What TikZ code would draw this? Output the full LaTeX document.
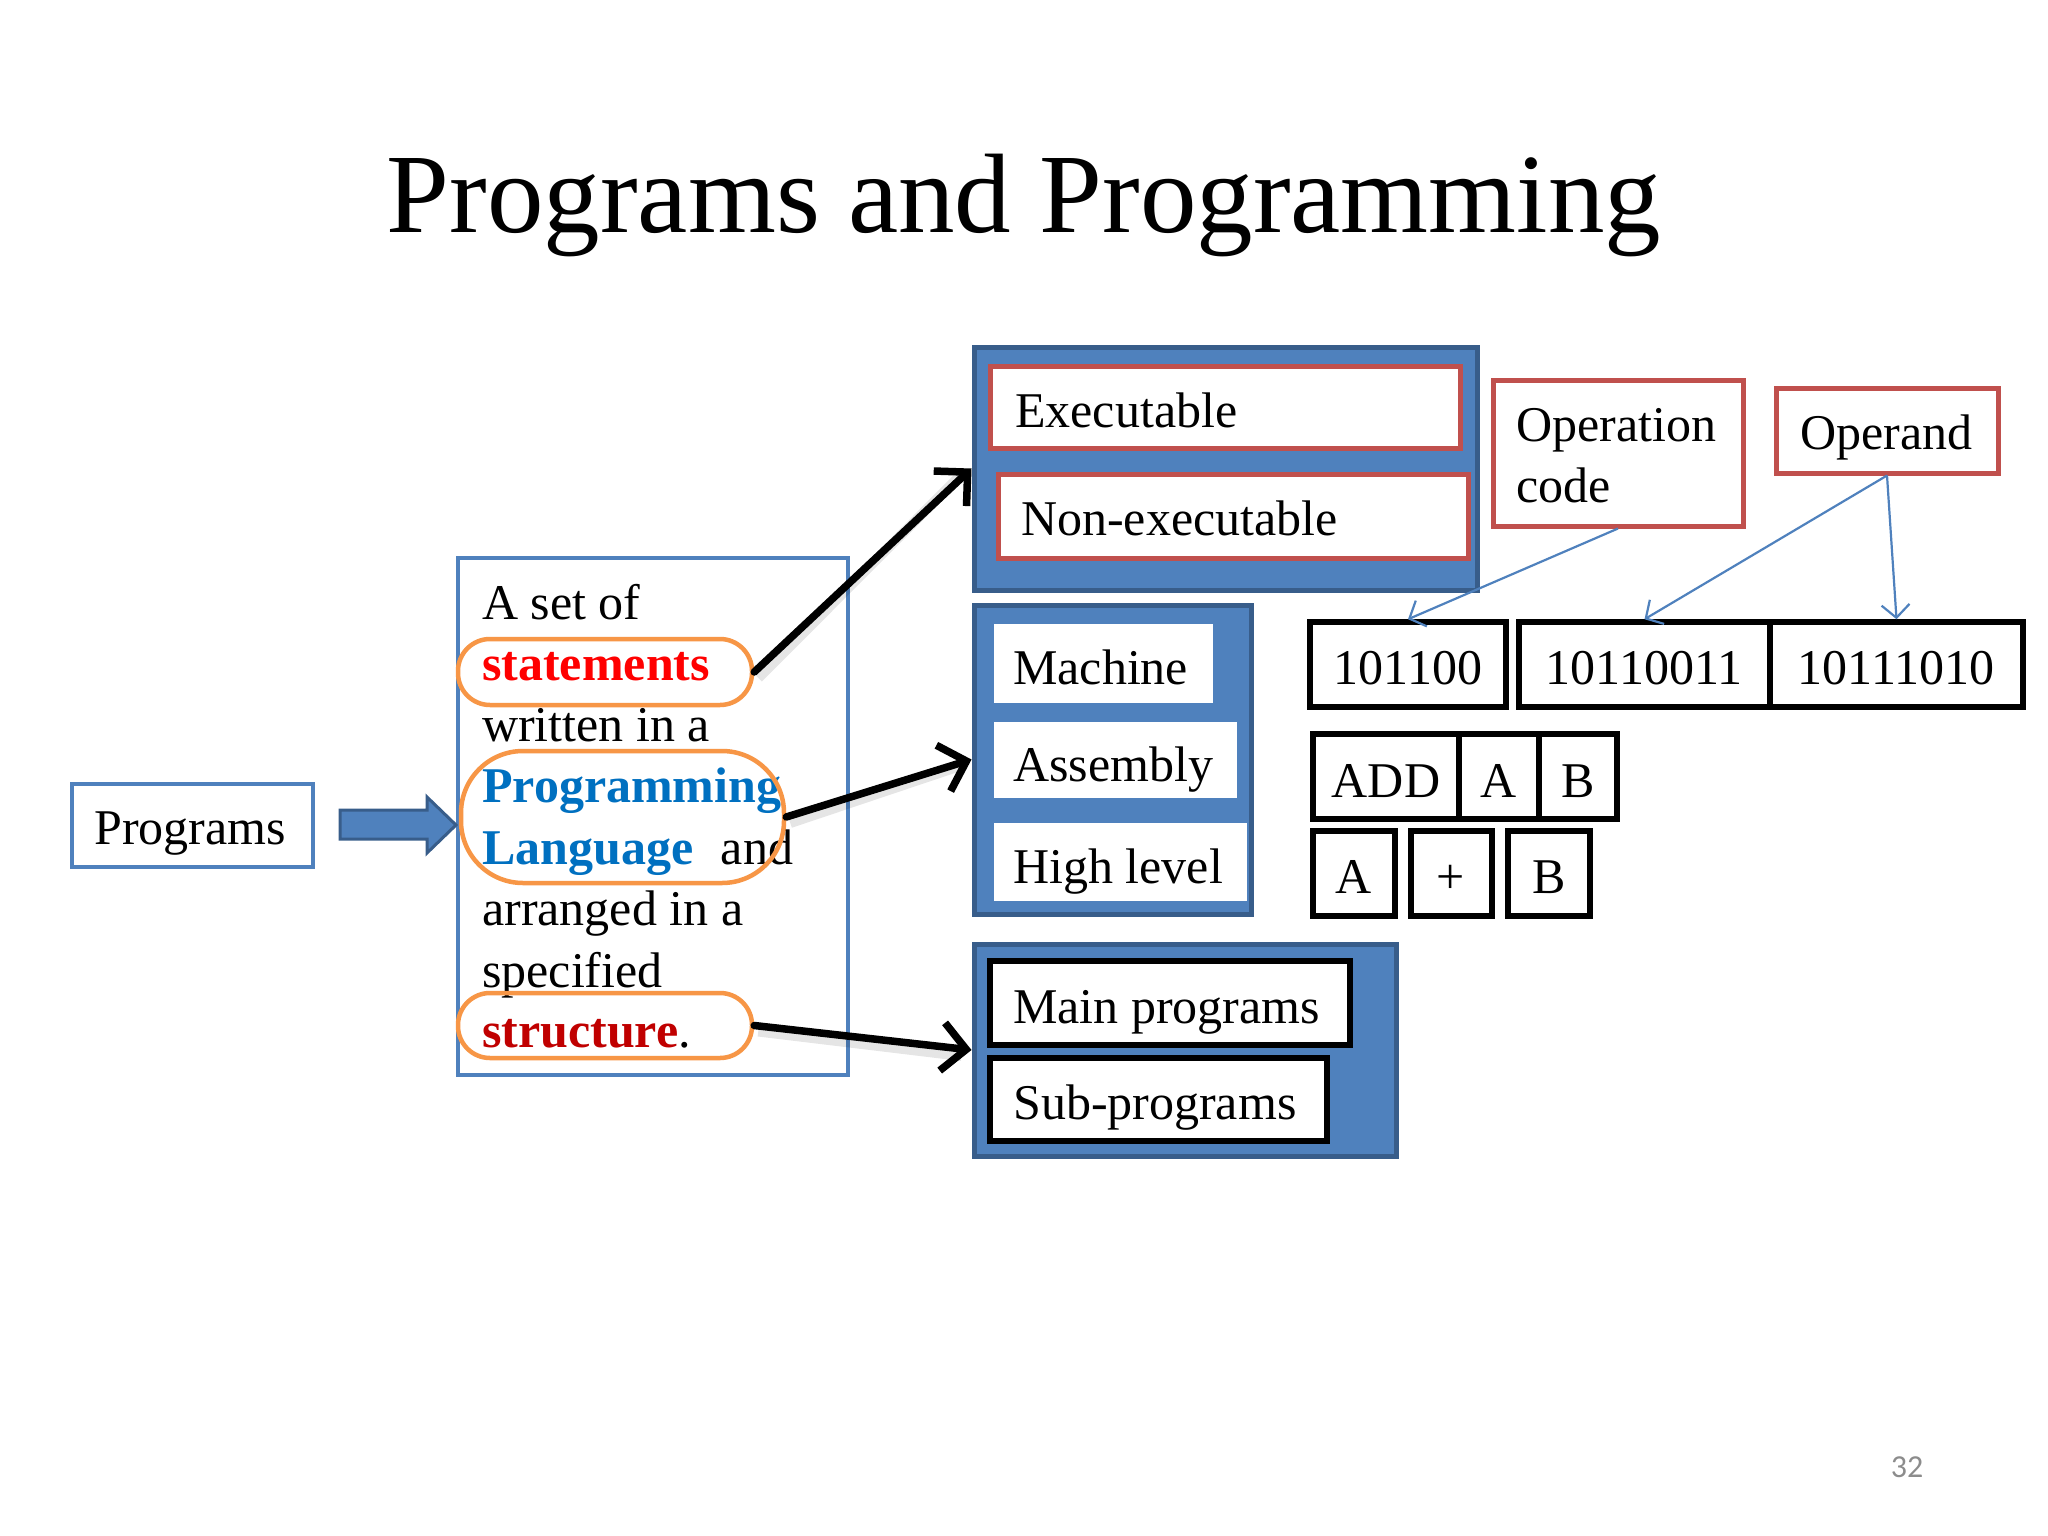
\documentclass[tikz,border=0pt]{standalone}
\usepackage{fontspec}
\setmainfont{Liberation Serif}
\newfontfamily\pagefont{Carlito}
\usetikzlibrary{arrows.meta,fit}
\definecolor{bfill}{HTML}{4F81BD}
\definecolor{bdark}{HTML}{385D8A}
\definecolor{rbord}{HTML}{C0504D}
\definecolor{orng}{HTML}{F79646}
\definecolor{tred}{HTML}{FF0000}
\definecolor{tblue}{HTML}{0070C0}
\definecolor{tdred}{HTML}{C00000}
\definecolor{pgray}{HTML}{8C8C8C}
\begin{document}
\begin{tikzpicture}[x=1pt,y=-1pt,
  txt/.style={font=\fontsize{50}{60}\selectfont, inner sep=0pt, anchor=base west},
  ctxt/.style={font=\fontsize{50}{60}\selectfont, inner sep=0pt, anchor=base},
  bluebox/.style={fill=bfill, draw=bdark, line width=5pt, inner sep=0pt},
  redbox/.style={fill=white, draw=rbord, line width=5pt, inner sep=0pt},
  whitebox/.style={fill=white, inner sep=0pt},
  blackbox/.style={fill=white, draw=black, line width=5.5pt, inner sep=0pt},
  outlinebox/.style={fill=white, draw=bfill, line width=4.5pt, inner sep=0pt},
  oval/.style={draw=orng, line width=4.5pt, inner sep=0pt},
  bigarrow/.style={line width=7.5pt, line cap=round, -{Straight Barb[length=24pt,width=48pt]}},
  arrowshadow/.style={line width=10pt, draw=black, opacity=0.1},
  thinarrow/.style={draw=bfill, line width=2.2pt, -{Straight Barb[length=13pt,width=28pt]}}
]
\useasboundingbox (0,0) rectangle (2048,1536);

% title
\node[font=\fontsize{113}{130}\selectfont, inner sep=0pt, anchor=base] (title) at (1024,232) {Programs and Programming};

% Programs box
\node[outlinebox, fit={(72,784) (313,867)}] (prog) {};
\node[txt] (progt) at (94,844) {Programs};

% text box
\node[outlinebox, fit={(458,558) (848,1075)}] (tbox) {};

% block arrow
\fill[bfill, draw=bdark, line width=3pt] (340,810) -- (427,810) -- (427,797) -- (456,825) -- (427,853) -- (427,839) -- (340,839) -- cycle;

% paragraph lines
\node[txt] (l1) at (482,619) {A set of};
\node[txt] (l2) at (482,680) {\textbf{\color{tred}statements}};
\node[txt] (l3) at (482,741) {written in a};
\node[txt] (l4) at (482,802) {\textbf{\color{tblue}Programming}};
\node[txt] (l5) at (482,864) {\textbf{\color{tblue}Language}\hspace{0.55em}and};
\node[txt] (l6) at (482,925) {arranged in a};
\node[txt] (l7) at (482,987) {specified};
\node[txt] (l8) at (482,1047) {\textbf{\color{tdred}structure}.};

% ovals
\node[oval, rounded corners=32pt, fit={(458,639) (752,705)}] (ov1) {};
\node[oval, rounded corners=62pt, fit={(461,751) (784,883)}] (ov2) {};
\node[oval, rounded corners=32pt, fit={(458,993) (752,1058)}] (ov3) {};

% top blue box
\node[bluebox, fit={(974,347) (1477,590)}] (topbox) {};
\node[redbox, fit={(990,366) (1460,448)}] (exe) {};
\node[txt] (exet) at (1015,427) {Executable};
\node[redbox, fit={(998,474) (1468,558)}] (nexe) {};
\node[txt] (nexet) at (1021,535) {Non-executable};

% middle blue box
\node[bluebox, fit={(974,605) (1251,914)}] (midbox) {};
\node[whitebox, fit={(994,624) (1213,703)}] (mach) {};
\node[txt] (macht) at (1013,684) {Machine};
\node[whitebox, fit={(994,722) (1237,798)}] (asm) {};
\node[txt] (asmt) at (1013,781) {Assembly};
\node[whitebox, fit={(994,823) (1247,901)}] (high) {};
\node[txt] (hight) at (1013,883) {High level};

% bottom blue box
\node[bluebox, fit={(974,944) (1396,1156)}] (botbox) {};
\node[blackbox, fit={(990,961) (1350,1045)}] (mainp) {};
\node[txt] (mainpt) at (1013,1023) {Main programs};
\node[blackbox, fit={(990,1058) (1327,1141)}] (subp) {};
\node[txt] (subpt) at (1013,1119) {Sub-programs};

% operation code / operand
\node[redbox, fit={(1493,380) (1743,526)}] (opc) {};
\node[txt] (opct1) at (1516,441) {Operation};
\node[txt] (opct2) at (1516,502) {code};
\node[redbox, fit={(1776,388) (1998,473)}] (opd) {};
\node[txt] (opdt) at (1800,449) {Operand};

% binary row
\node[blackbox, fit={(1310,622) (1506,707)}] (b1) {};
\node[ctxt] (b1t) at (1408,684) {101100};
\node[blackbox, fit={(1519,622) (1770,707)}] (b2) {};
\node[ctxt] (b2t) at (1644,684) {10110011};
\node[blackbox, fit={(1770,622) (2023,707)}] (b3) {};
\node[ctxt] (b3t) at (1896,684) {10111010};

% ADD A B row
\node[blackbox, fit={(1313,734) (1459,819)}] (c1) {};
\node[ctxt] (c1t) at (1386,797) {ADD};
\node[blackbox, fit={(1459,734) (1539,819)}] (c2) {};
\node[ctxt] (c2t) at (1499,797) {A};
\node[blackbox, fit={(1539,734) (1617,819)}] (c3) {};
\node[ctxt] (c3t) at (1578,797) {B};

% A + B row
\node[blackbox, fit={(1313,831) (1395,916)}] (d1) {};
\node[ctxt] (d1t) at (1354,893) {A};
\node[blackbox, fit={(1411,831) (1492,916)}] (d2) {};
\node[ctxt] (d2t) at (1451,893) {+};
\node[blackbox, fit={(1508,831) (1590,916)}] (d3) {};
\node[ctxt] (d3t) at (1549,893) {B};

% thin blue arrows
\draw[thinarrow] (opc.south) -- (b1.north);
\draw[thinarrow] (opd.south) -- (b2.north);
\draw[thinarrow] (opd.south) -- (b3.north);

% big black arrows (with soft shadow)
\draw[arrowshadow] ([shift={(4,6)}]ov1.east) -- ([shift={(-10,6)}]topbox.west);
\draw[arrowshadow] ([shift={(4,6)}]ov2.east) -- ([shift={(-10,6)}]midbox.west);
\draw[arrowshadow] ([shift={(4,6)}]ov3.east) -- ([shift={(-10,6)}]botbox.west);
\draw[bigarrow] (ov1.east) -- (topbox.west);
\draw[bigarrow] (ov2.east) -- (midbox.west);
\draw[bigarrow] (ov3.east) -- (botbox.west);

% page number
\node[font=\pagefont\fontsize{32}{38}\selectfont, text=pgray, inner sep=0pt, anchor=base] (pnum) at (1907,1477) {32};
\end{tikzpicture}
\end{document}
